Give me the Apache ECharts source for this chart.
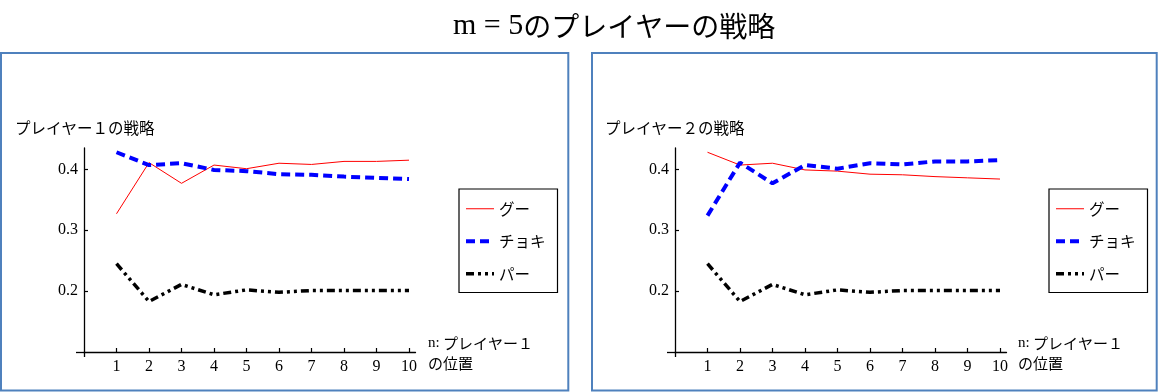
<!DOCTYPE html>
<html><head><meta charset="utf-8">
<script src="https://cdn.jsdelivr.net/npm/echarts@6/dist/echarts.min.js"></script>
<style>html,body{margin:0;padding:0;background:#fff}#c{width:1160px;height:392px}</style>
</head><body><div id="c"></div>
<script>
// ---- data ----
const positions = [1, 2, 3, 4, 5, 6, 7, 8, 9, 10];
const seriesNames = ['グー', 'チョキ', 'パー'];
// player 1 strategy
const p1Gu    = [0.327, 0.411, 0.377, 0.407, 0.401, 0.410, 0.408, 0.413, 0.413, 0.415];
const p1Choki = [0.428, 0.407, 0.410, 0.399, 0.397, 0.392, 0.391, 0.388, 0.386, 0.384];
const p1Pa    = [0.245, 0.183, 0.211, 0.194, 0.202, 0.198, 0.201, 0.201, 0.201, 0.201];
// player 2 strategy
const p2Gu    = [0.428, 0.407, 0.410, 0.399, 0.397, 0.392, 0.391, 0.388, 0.386, 0.384];
const p2Choki = [0.324, 0.411, 0.377, 0.407, 0.401, 0.410, 0.408, 0.413, 0.413, 0.415];
const p2Pa    = [0.245, 0.183, 0.211, 0.194, 0.202, 0.198, 0.201, 0.201, 0.201, 0.201];
const xTickValues = [1, 2, 3, 4, 5, 6, 7, 8, 9, 10];
const yTickValues = [0.2, 0.3, 0.4];
const mainTitle = 'のプレイヤーの戦略';
const yNames = ['プレイヤー１の戦略', 'プレイヤー２の戦略'];

// ---- chart ----
const JP = '"Noto Sans CJK JP", sans-serif';
const SERIF = '"Liberation Serif", "Times New Roman", serif';
const chart = echarts.init(document.getElementById('c'), null, {renderer: 'canvas'});

const panels = [
  {gridLeft: 84, legendLeft: 459, yNameLeft: 15, xNameLeft: 428, data: [p1Gu, p1Choki, p1Pa]},
  {gridLeft: 675, legendLeft: 1049, yNameLeft: 605, xNameLeft: 1018, data: [p2Gu, p2Choki, p2Pa]}
];
const styles = [
  {color: '#ff0000', width: 1, type: 'solid'},
  {color: '#0000ff', width: 4, type: [9, 5]},
  {color: '#000000', width: 3.5, type: [8, 4, 3, 4, 3, 4]}
];

const grid = [], xAxis = [], yAxis = [], series = [], legend = [];
const title = [{
  text: '{s|m = 5}{j|' + mainTitle + '}', left: 453, top: 10, padding: 0,
  textStyle: {fontWeight: 'normal', rich: {
    s: {fontFamily: SERIF, fontSize: 30, fontWeight: 'normal', color: '#000', lineHeight: 32},
    j: {fontFamily: JP, fontSize: 28, fontWeight: 'normal', color: '#000', lineHeight: 32}
  }}
}];
const pairs = ys => positions.map((x, i) => [x, ys[i]]);

panels.forEach((p, g) => {
  grid.push({left: p.gridLeft, top: 148, width: 331.5, height: 204, containLabel: false});
  xAxis.push({
    type: 'value', gridIndex: g, min: 0, max: 10.2, position: 'bottom',
    axisLine: {show: true, lineStyle: {color: '#000', width: 1.3}},
    axisTick: {show: true, inside: true, length: 4, customValues: xTickValues, lineStyle: {color: '#000', width: 1.2}},
    axisLabel: {customValues: xTickValues, margin: 7, fontFamily: SERIF, fontSize: 16, color: '#000'},
    splitLine: {show: false}
  });
  xAxis.push({
    type: 'value', gridIndex: g, min: 0, max: 10.2, position: 'bottom',
    axisLine: {show: false},
    axisTick: {show: true, inside: false, length: 5, customValues: [0], lineStyle: {color: '#000', width: 1.3}},
    axisLabel: {show: false}, splitLine: {show: false}
  });
  yAxis.push({
    type: 'value', gridIndex: g, min: 0.1, max: 0.435, position: 'left',
    axisLine: {show: true, lineStyle: {color: '#000', width: 1.3}},
    axisTick: {show: true, inside: true, length: 4, customValues: yTickValues, lineStyle: {color: '#000', width: 1.2}},
    axisLabel: {customValues: yTickValues, formatter: v => v.toFixed(1), margin: 6, fontFamily: SERIF, fontSize: 16, color: '#000'},
    splitLine: {show: false}
  });
  yAxis.push({
    type: 'value', gridIndex: g, min: 0.1, max: 0.435, position: 'left',
    axisLine: {show: false},
    axisTick: {show: true, inside: false, length: 8, customValues: [0.1], lineStyle: {color: '#000', width: 1.3}},
    axisLabel: {show: false}, splitLine: {show: false}
  });
  p.data.forEach((ys, k) => {
    series.push({
      type: 'line', name: seriesNames[k], xAxisIndex: 2 * g, yAxisIndex: 2 * g,
      data: pairs(ys), symbol: 'none', showSymbol: false, silent: true,
      lineStyle: {color: styles[k].color, width: styles[k].width, type: styles[k].type, cap: 'butt'},
      itemStyle: {color: styles[k].color, borderWidth: 0}
    });
  });
  legend.push({
    data: seriesNames.map((name, k) => ({name, lineStyle: {width: styles[k].width, type: styles[k].type, color: styles[k].color}})),
    orient: 'vertical', left: p.legendLeft, top: 189,
    padding: [12, 12, 11, 5], itemWidth: 28, itemHeight: 16, itemGap: 17,
    borderColor: '#000', borderWidth: 1.2, selectedMode: false,
    itemStyle: {opacity: 0, borderWidth: 0},
    textStyle: {fontFamily: JP, fontSize: 15.5, color: '#000'}
  });
  title.push({
    text: yNames[g], left: p.yNameLeft, top: 118, padding: 0,
    textStyle: {fontFamily: JP, fontSize: 15.5, fontWeight: 'normal', color: '#000', lineHeight: 20}
  });
  title.push({
    text: '{a|n:}{b| プレイヤー１}\n{b|の位置}', left: p.xNameLeft, top: 333, padding: 0,
    textStyle: {fontWeight: 'normal', rich: {
      a: {fontFamily: SERIF, fontSize: 15, fontWeight: 'normal', color: '#000', lineHeight: 20},
      b: {fontFamily: JP, fontSize: 15, fontWeight: 'normal', color: '#000', lineHeight: 20}
    }}
  });
});

chart.setOption({
  animation: false,
  backgroundColor: '#fff',
  title, grid, xAxis, yAxis, series, legend,
  graphic: [
    {type: 'rect', shape: {x: 1, y: 53, width: 567.3, height: 337.5}, style: {fill: null, stroke: '#4f81bd', lineWidth: 2}, silent: true},
    {type: 'rect', shape: {x: 592, y: 53, width: 564.7, height: 337.5}, style: {fill: null, stroke: '#4f81bd', lineWidth: 2}, silent: true}
  ]
});
</script></body></html>
